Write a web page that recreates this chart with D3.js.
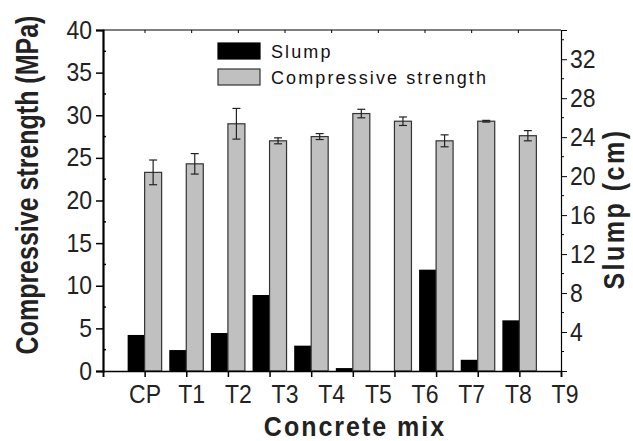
<!DOCTYPE html>
<html>
<head>
<meta charset="utf-8">
<script src="https://cdn.jsdelivr.net/npm/d3@7"></script>
<style>
  body { margin: 0; background: #fff; }
  svg { display: block; font-family: "Liberation Sans", Arial, sans-serif; }
</style>
</head>
<body>
<div id="chart"></div>
<script>
const mixes = ["CP", "T1", "T2", "T3", "T4", "T5", "T6", "T7", "T8", "T9"];
const slump = [3.7, 2.15, 3.9, 7.8, 2.6, 0.3, 0, 10.4, 1.15, 5.2];
const strength = [23.3, 24.3, 29.0, 27.0, 27.5, 30.2, 29.3, 27.0, 29.3, 27.6];
const strengthErr = [1.45, 1.2, 1.8, 0.35, 0.35, 0.5, 0.5, 0.7, 0.1, 0.6];
const leftTicks = [0, 5, 10, 15, 20, 25, 30, 35, 40];
const rightTicks = [4, 8, 12, 16, 20, 24, 28, 32];

const width = 633;
const height = 441;
const plot = { left: 103, right: 561, top: 30, bottom: 371 };

const svg = d3.select("#chart").append("svg")
  .attr("width", width)
  .attr("height", height);

// slot 0 and slot 11 are empty, bars sit on slots 1..10
const x = d3.scaleLinear().domain([0, mixes.length + 1]).range([plot.left, plot.right]);
const xLab = d3.scalePoint().domain(mixes).range([145, 565]);
const yL = d3.scaleLinear().domain([0, 40]).range([plot.bottom, plot.top]);
const yR = d3.scaleLinear().domain([0, 35]).range([plot.bottom, plot.top]);
const barW = 17;

const rows = mixes.map((m, i) => ({ mix: m, slot: i + 1, slump: slump[i], str: strength[i], err: strengthErr[i] }));

// bars
svg.append("g").selectAll("rect")
  .data(rows)
  .join("rect")
  .attr("x", (d) => x(d.slot) - barW)
  .attr("y", (d) => yR(d.slump))
  .attr("width", barW)
  .attr("height", (d) => yR(0) - yR(d.slump))
  .attr("fill", "#000");

svg.append("g").selectAll("rect")
  .data(rows)
  .join("rect")
  .attr("x", (d) => x(d.slot))
  .attr("y", (d) => yL(d.str))
  .attr("width", barW)
  .attr("height", (d) => yL(0) - yL(d.str))
  .attr("fill", "#c0c0c0")
  .attr("stroke", "#333")
  .attr("stroke-width", 1.2);

// error bars
const eb = svg.append("g").attr("stroke", "#222").attr("stroke-width", 1.2);
rows.forEach((d) => {
  const cx = x(d.slot) + barW / 2;
  eb.append("line").attr("x1", cx).attr("x2", cx).attr("y1", yL(d.str + d.err)).attr("y2", yL(d.str - d.err));
  [d.str + d.err, d.str - d.err].forEach((v) => {
    eb.append("line").attr("x1", cx - 4).attr("x2", cx + 4).attr("y1", yL(v)).attr("y2", yL(v));
  });
});

// frame
svg.append("line").attr("x1", plot.left).attr("x2", plot.right).attr("y1", plot.top).attr("y2", plot.top)
  .attr("stroke", "#000").attr("stroke-width", 1);

// bottom axis: ticks only
const bottomAxis = svg.append("g")
  .attr("transform", `translate(0,${plot.bottom})`)
  .call(d3.axisBottom(x).tickValues(d3.range(0, mixes.length + 2)).tickSize(6).tickFormat(""));
bottomAxis.select(".domain").attr("stroke-width", 1.5);
bottomAxis.selectAll(".tick line").attr("stroke-width", 1.5);

// category labels
svg.append("g").selectAll("text")
  .data(mixes)
  .join("text")
  .attr("transform", (d) => `translate(${xLab(d)},403) scale(1,1.1)`)
  .attr("text-anchor", "middle")
  .attr("font-size", 23)
  .attr("fill", "#222")
  .text((d) => d);

// top ticks at label positions
svg.append("g").selectAll("line")
  .data(mixes.filter((m) => xLab(m) < plot.right - 2))
  .join("line")
  .attr("x1", (d) => xLab(d)).attr("x2", (d) => xLab(d))
  .attr("y1", plot.top).attr("y2", plot.top + 3)
  .attr("stroke", "#000");

// left axis
const leftAxis = svg.append("g")
  .attr("transform", `translate(${plot.left},0)`)
  .call(d3.axisLeft(yL).tickValues(leftTicks).tickSize(7).tickPadding(4));
leftAxis.select(".domain").attr("stroke-width", 2.2);
leftAxis.selectAll(".tick line").attr("stroke-width", 1.5);
leftAxis.selectAll(".tick text").attr("font-size", 23).attr("fill", "#222").attr("font-family", null)
  .attr("transform", "scale(1,1.1)");
svg.append("g").selectAll("line")
  .data(d3.range(2.5, 40, 5))
  .join("line")
  .attr("x1", plot.left).attr("x2", plot.left + 3)
  .attr("y1", (d) => yL(d)).attr("y2", (d) => yL(d))
  .attr("stroke", "#000").attr("stroke-width", 1.5);

// right axis
const rightAxis = svg.append("g")
  .attr("transform", `translate(${plot.right},0)`)
  .call(d3.axisRight(yR).tickValues(rightTicks).tickSize(6).tickPadding(3));
rightAxis.select(".domain").attr("stroke-width", 1.2);
rightAxis.selectAll(".tick text").attr("font-size", 23).attr("fill", "#222").attr("font-family", null)
  .attr("transform", "scale(1,1.1)");
svg.append("g").selectAll("line")
  .data(d3.range(2, 35, 4))
  .join("line")
  .attr("x1", plot.right).attr("x2", plot.right + 3)
  .attr("y1", (d) => yR(d)).attr("y2", (d) => yR(d))
  .attr("stroke", "#000");

// legend
const legend = [
  { name: "Slump", fill: "#000", stroke: "#000" },
  { name: "Compressive strength", fill: "#c0c0c0", stroke: "#333" }
];
const lg = svg.append("g");
legend.forEach((d, i) => {
  lg.append("rect").attr("x", 218).attr("y", 43 + i * 26).attr("width", 42).attr("height", 16)
    .attr("fill", d.fill).attr("stroke", d.stroke).attr("stroke-width", 1.2);
  lg.append("text").attr("x", 271).attr("y", 58 + i * 26)
    .attr("font-size", 18).attr("letter-spacing", 2.1).attr("fill", "#111")
    .text(d.name);
});

// axis titles (Origin renders them a bit tall, hence the stretch)
svg.append("text")
  .attr("transform", "translate(38,185) rotate(-90) scale(1,1.25)")
  .attr("text-anchor", "middle")
  .attr("font-size", 25).attr("font-weight", "bold").attr("fill", "#222")
  .text("Compressive strength (MPa)");

svg.append("text")
  .attr("transform", "translate(624,209) rotate(-90) scale(1,1.15)")
  .attr("text-anchor", "middle")
  .attr("font-size", 25).attr("font-weight", "bold").attr("letter-spacing", 2.5).attr("fill", "#222")
  .text("Slump (cm)");

svg.append("text")
  .attr("transform", "translate(355,436) scale(1,1.1)")
  .attr("text-anchor", "middle")
  .attr("font-size", 25).attr("font-weight", "bold").attr("letter-spacing", 2).attr("fill", "#222")
  .text("Concrete mix");
</script>
</body>
</html>
